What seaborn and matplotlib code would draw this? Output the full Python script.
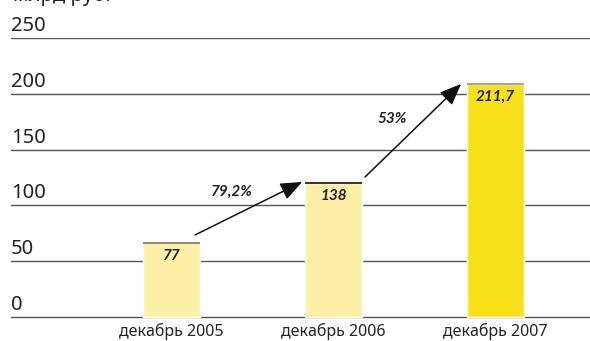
import matplotlib
matplotlib.use("Agg")
import matplotlib.pyplot as plt
import seaborn as sns

categories = ["декабрь 2005", "декабрь 2006", "декабрь 2007"]
# bar heights as drawn in the picture (the printed labels differ)
heights = [66, 120, 209]
value_labels = ["77", "138", "211,7"]
growth_labels = ["79,2%", "53%"]
yticks = [0, 50, 100, 150, 200, 250]

bar_colors = ["#FEEFA6", "#FEEFA6", "#F9E11A"]
edge_colors = ["#8A8059", "#222222", "#9A9A9A"]

sns.set_theme(style="white")
plt.rcParams["font.family"] = ["Noto Sans", "DejaVu Sans"]

fig = plt.figure(figsize=(5.9, 3.41), dpi=100)
ax = fig.add_axes([11 / 590, 1 - 319.2 / 341, 1 - 11 / 590, (319.2 - 38) / 341])

w = 0.352
sns.barplot(x=categories, y=heights, hue=categories, palette=bar_colors,
            legend=False, width=w, ax=ax, saturation=1)
ax.hlines(heights, [i - w / 2 for i in range(3)], [i + w / 2 for i in range(3)],
          colors=edge_colors, linewidth=1.3, zorder=4)

ax.set_xlim(-0.991, 2.583)
ax.set_ylim(-2, 250)
ax.set_yticks(yticks)
ax.set_yticklabels([])
ax.yaxis.grid(True, color="#555555", linewidth=1)
ax.set_axisbelow(True)
for s in ax.spines.values():
    s.set_visible(False)
ax.tick_params(axis="both", length=0)
ax.tick_params(axis="x", labelsize=11.5, labelcolor="#222222", pad=3)
ax.set_xlabel("")

for t in yticks:
    ax.text(0, t + 6.3, str(t), transform=ax.get_yaxis_transform(),
            ha="left", va="baseline", fontsize=14.5, color="#222222")

bold_it = dict(fontweight="bold", fontstyle="italic", color="#222222",
               family=["Lato", "DejaVu Sans"])
for i, (h, lab) in enumerate(zip(heights, value_labels)):
    ax.text(i, h - 11.5, lab, ha="center", va="center", fontsize=11,
            zorder=5, **bold_it)

arrows = [((0.145, 73.5), (0.806, 121)), ((1.194, 125.4), (1.787, 208.8))]
for (x0, y0), (x1, y1) in arrows:
    ax.annotate("", xy=(x1, y1), xytext=(x0, y0),
                arrowprops=dict(arrowstyle="-|>,head_length=1.1,head_width=0.45",
                                color="#111111", lw=1.1, shrinkA=0, shrinkB=0),
                zorder=6)

ax.text(0.373, 112, growth_labels[0], ha="center", va="center", fontsize=11, **bold_it)
ax.text(1.361, 177.4, growth_labels[1], ha="center", va="center", fontsize=11, **bold_it)

fig.text(13 / 590, 1 - 0.5 / 341, "млрд руб.", ha="left", va="baseline",
         fontsize=14.5, color="#222222")

fig.savefig("out.png", dpi=100)
